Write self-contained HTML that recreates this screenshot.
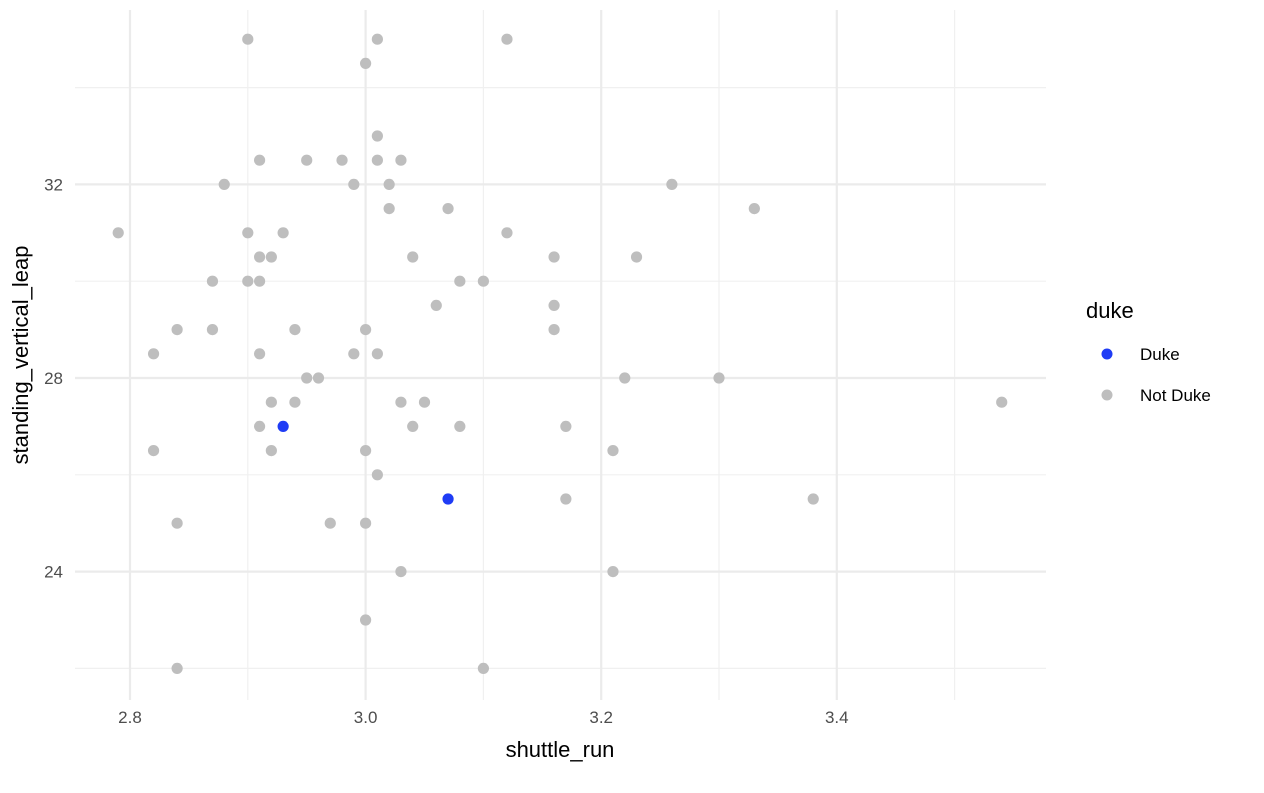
<!DOCTYPE html>
<html><head><meta charset="utf-8"><style>
body{margin:0;background:#fff;font-family:"Liberation Sans",sans-serif}
</style></head><body>
<svg id="chart" width="1264" height="788" xmlns="http://www.w3.org/2000/svg">
<g id="grid"></g>
<g id="points"></g>
<g id="axes"></g>
<text x="560" y="757" font-size="22" text-anchor="middle" fill="#000">shuttle_run</text>
<text transform="translate(28,355) rotate(-90)" font-size="22" text-anchor="middle" fill="#000">standing_vertical_leap</text>
<g>
<text x="1086" y="318" font-size="22" fill="#000">duke</text>
<circle cx="1107" cy="354" r="5.5" fill="#1f3cf5"/>
<text x="1140" y="360" font-size="17" fill="#000">Duke</text>
<circle cx="1107" cy="395" r="5.5" fill="#bebebe"/>
<text x="1140" y="401" font-size="17" fill="#000">Not Duke</text>
</g>
</svg>
<script>
const xTicks=[2.8,3.0,3.2,3.4];
const xMinor=[2.9,3.1,3.3,3.5];
const yTicks=[24,28,32];
const yMinor=[22,26,30,34];
const dukeX=[2.93,3.07];
const dukeY=[27,25.5];
const otherX=[2.9,3.01,3.12,3.0,3.01,2.91,2.95,2.98,3.01,3.03,2.88,2.99,3.02,3.26,3.02,3.07,3.33,2.79,2.9,2.93,3.12,2.91,2.92,3.04,3.16,3.23,2.87,2.9,2.91,3.08,3.1,3.06,3.16,2.84,2.87,2.94,3.0,3.16,2.82,2.91,2.99,3.01,2.95,2.96,3.22,3.3,2.92,2.94,3.03,3.05,3.54,2.91,3.04,3.08,3.17,2.82,2.92,3.0,3.21,3.01,3.17,3.38,2.84,2.97,3.0,3.03,3.21,3.0,2.84,3.1];
const otherY=[35,35,35,34.5,33,32.5,32.5,32.5,32.5,32.5,32,32,32,32,31.5,31.5,31.5,31,31,31,31,30.5,30.5,30.5,30.5,30.5,30,30,30,30,30,29.5,29.5,29,29,29,29,29,28.5,28.5,28.5,28.5,28,28,28,28,27.5,27.5,27.5,27.5,27.5,27,27,27,27,26.5,26.5,26.5,26.5,26,25.5,25.5,25,25,25,24,24,23,22,22];
const NS='http://www.w3.org/2000/svg';
const X=v=>130+(v-2.8)*1178;
const Y=v=>378-(v-28)*48.4;
const L=75,R=1046,T=10,B=700;
function mk(t,a,p){const e=document.createElementNS(NS,t);for(const k in a)e.setAttribute(k,a[k]);p.appendChild(e);return e;}
const g=document.getElementById('grid'),pg=document.getElementById('points'),ax=document.getElementById('axes');
yMinor.forEach(v=>{const e=mk('line',{x1:L,x2:R,y1:Y(v),y2:Y(v),stroke:'#f0f0f0','stroke-width':1.2},g);

});
xMinor.forEach(v=>{const e=mk('line',{x1:X(v),x2:X(v),y1:T,y2:B,stroke:'#f0f0f0','stroke-width':1.2},g);

});
yTicks.forEach(v=>{const e=mk('line',{x1:L,x2:R,y1:Y(v),y2:Y(v),stroke:'#ebebeb','stroke-width':2.2},g);


const t=mk('text',{x:L-12,y:Y(v)+6,'font-size':17,fill:'#4d4d4d','text-anchor':'end'},ax);t.textContent=v;

});
xTicks.forEach(v=>{const e=mk('line',{x1:X(v),x2:X(v),y1:T,y2:B,stroke:'#ebebeb','stroke-width':2.2},g);


const t=mk('text',{x:X(v),y:B+23,'font-size':17,fill:'#4d4d4d','text-anchor':'middle'},ax);t.textContent=v.toFixed(1);

});
otherX.forEach((v,i)=>{const c=mk('circle',{cx:X(v),cy:Y(otherY[i]),r:5.6,fill:'#bebebe'},pg);

});
dukeX.forEach((v,i)=>{const c=mk('circle',{cx:X(v),cy:Y(dukeY[i]),r:5.6,fill:'#1f3cf5'},pg);

});
</script>
</body></html>
